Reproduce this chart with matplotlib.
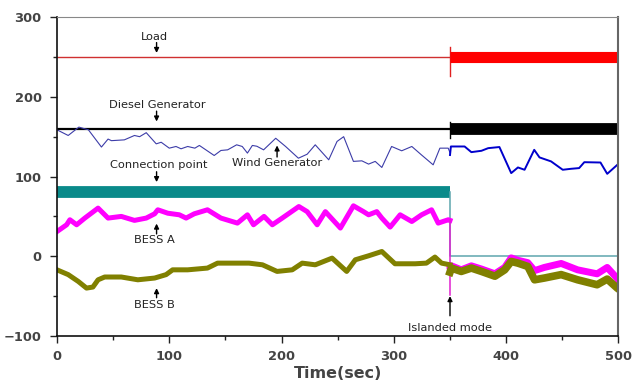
import matplotlib.pyplot as plt
import numpy as np

# time instants of the switch to islanded mode
t_island = 350
t_end = 500

# flat levels before islanding
load_level = 250
diesel_level = 160
conn_level = 80

# wind generator, grid-connected part
wind_t = [0, 10, 19.5, 28, 39.6, 45.5, 48.5, 60, 69, 73.6, 79.5, 88.4, 92.8, 100, 106,
          110.5, 116.4, 122.8, 126.8, 140, 146, 152, 160, 165, 169.6, 174, 178, 184,
          194.8, 203.6, 215, 222.8, 230, 242, 249.4, 255.3, 264, 271.5, 277.5, 283.4,
          289.3, 298, 307, 316, 324.7, 335, 341, 348.4, 350]
wind_y = [158.6, 151.5, 162, 158.6, 137, 147, 145, 146, 151.5, 150, 155, 141, 143, 135.6,
          137.7, 134.8, 137.7, 135.6, 139, 126.4, 132.7, 133.5, 139.8, 137.7, 129.4, 139,
          138, 133.5, 148, 137.7, 123, 128, 139.8, 121, 144, 150, 119, 119.7, 115.6, 119,
          111.4, 137.7, 132.3, 137.7, 127, 114.7, 135.6, 135.6, 130]

# wind generator, islanded part
wind2_t = [350, 350.8, 363, 369, 378, 384, 394, 404.5, 410.5, 416.4, 425, 429.7, 440,
           450.4, 457.7, 465, 469.6, 484, 490, 499, 500]
wind2_y = [127, 137.7, 137.7, 130.6, 132.3, 135.6, 137, 104.3, 111.4, 108.5, 133.5, 124,
           119, 108.5, 109.7, 110.6, 118, 117.6, 103.4, 114.7, 116]

# BESS A
bessa_t = [0, 8.6, 11.5, 17.5, 24.8, 36.6, 45.5, 57.3, 69, 79.5, 87, 89.8, 98.7, 109, 115,
           122.3, 134, 146, 160.7, 169.6, 175, 184.4, 191.8, 200.6, 215.4, 222.8, 231.7,
           239, 252.4, 264, 273, 277.5, 284.8, 289.3, 296.7, 305.6, 316, 324.7, 333.6,
           339.5, 348.4, 350]
bessa_y = [31, 39.5, 45.8, 39.5, 47.9, 60.4, 47.9, 50, 45, 47.9, 53.3, 58.3, 54, 52, 47.9,
           53.3, 58.3, 47.9, 41.6, 52, 39.5, 50, 39.5, 47.9, 62.4, 56, 39.5, 56, 35.4, 63.3,
           56, 52, 56, 47.9, 36.6, 52, 43.6, 52, 58.3, 41.6, 45.8, 45]
bessa_drop = -48
bessa2_t = [350, 351.3, 360, 369, 378, 390, 398.7, 404.5, 410.5, 419.3, 425.3, 434,
            449, 463.6, 481, 490, 499, 500]
bessa2_y = [-12, -12, -17, -12, -16, -22, -14, -2, -5, -8, -18, -14, -9, -17, -22,
            -14, -28, -30]

# BESS B
bessb_t = [0, 10, 19, 26.3, 32, 36.6, 42.5, 57.3, 72, 87, 97.2, 103, 116.4, 134, 143,
           157.8, 171, 183, 196, 209.5, 218.4, 230, 245, 258, 265.7, 277.5, 289.3, 301,
           319, 329, 336.6, 342.5, 350]
bessb_y = [-17, -23, -31.6, -39.9, -38.6, -29.5, -26, -26, -29.5, -27.3, -23, -17, -17,
           -14.8, -8.6, -8.6, -8.6, -10.7, -19, -17, -8.6, -10.7, -2.3, -19, -4.4, 0.6, 6,
           -9.4, -9.4, -8.6, -1, -8.6, -10.7]
bessb2_t = [350, 351.3, 360, 369, 378, 390, 398.7, 404.5, 410.5, 419.3, 425.3, 434, 449,
            463.6, 481, 490, 499, 500]
bessb2_y = [-20, -14.8, -19, -14.8, -19, -25, -17, -6.5, -8.6, -12.8, -29.5, -27.3, -23,
            -29.5, -35.7, -28.6, -40, -41]

# annotations: text, text position, arrow tail, arrow head
notes = [
    ("Load", (87, 275), (88.7, 268), (88.7, 255)),
    ("Diesel Generator", (89, 190), (88.7, 182), (88.7, 169)),
    ("Connection point", (91, 114.7), (88.7, 106), (88.7, 93)),
    ("Wind Generator", (196, 117), (196, 124.5), (196, 139)),
    ("BESS A", (87, 20.7), (88.7, 28), (88.7, 41)),
    ("BESS B", (87, -60.8), (88.7, -52), (88.7, -40)),
    ("Islanded mode", (350, -89.7), (350, -74.6), (350, -50)),
]

fig = plt.figure(figsize=(6.33, 3.88), dpi=100)
ax = fig.add_axes([0.090, 0.134, 0.887, 0.822])

# load
ax.plot([0, t_island], [load_level, load_level], color='#d03030', lw=1)
ax.plot([t_island, t_island], [226, 262], color='#e02020', lw=1)
ax.plot([t_island, t_end], [load_level, load_level], color='#ff0000', lw=8,
        solid_capstyle='butt')

# diesel
ax.plot([0, t_island], [diesel_level, diesel_level], color='black', lw=1.6)
ax.plot([t_island, t_island], [148, 168], color='black', lw=1)
ax.plot([t_island, t_end], [diesel_level - 1, diesel_level - 1], color='black', lw=8.5,
        solid_capstyle='butt')

# wind
ax.plot(wind_t, wind_y, color='#3c3ca8', lw=0.8)
ax.plot(wind2_t, wind2_y, color='#0000cc', lw=1.4)

# connection point
ax.plot([0, t_island], [conn_level, conn_level], color='#0a8a8a', lw=8.5,
        solid_capstyle='butt')
ax.plot([t_island, t_island, t_end], [conn_level, 0, 0], color='#5ea6ae', lw=1.1)

# BESS A and B
ax.plot(bessa_t, bessa_y, color='#ff00ff', lw=3.6, solid_joinstyle='round')
ax.plot([t_island, t_island], [bessa_y[-1], bessa_drop], color='#e020d0', lw=1.1)
ax.plot(bessa2_t, bessa2_y, color='#ff00ff', lw=5, solid_joinstyle='round')
ax.plot(bessb_t, bessb_y, color='#808000', lw=3.6, solid_joinstyle='round')
ax.plot(bessb2_t, bessb2_y, color='#808000', lw=5.5, solid_joinstyle='round')

for label, txt_pos, tail, head in notes:
    ax.text(txt_pos[0], txt_pos[1], label, fontsize=8.2, ha='center', va='center',
            color='#222222')
    ax.annotate('', xy=head, xytext=tail,
                arrowprops=dict(arrowstyle='-|>', color='black', lw=1,
                                mutation_scale=7, shrinkA=0, shrinkB=0))

ax.set_xlim(0, 500)
ax.set_ylim(-100, 300)
ax.set_xticks([0, 100, 200, 300, 400, 500])
ax.set_yticks([-100, 0, 100, 200, 300])
ax.set_xticks(np.arange(50, 500, 100), minor=True)
ax.set_yticks(np.arange(-50, 300, 100), minor=True)
ax.tick_params(which='major', direction='out', length=5, width=1, color='#222222',
               labelsize=9.4, labelcolor='#444444')
ax.tick_params(which='minor', direction='out', length=3, width=1, color='#222222')
for lab in ax.get_xticklabels() + ax.get_yticklabels():
    lab.set_fontweight('bold')
ax.tick_params(axis='x', pad=5)
ax.tick_params(axis='y', pad=6)

ax.spines['left'].set_color('#111111')
ax.spines['bottom'].set_color('#111111')
ax.spines['left'].set_linewidth(1.2)
ax.spines['bottom'].set_linewidth(1.2)
ax.spines['top'].set_color('#888888')
ax.spines['right'].set_color('#666666')
ax.spines['right'].set_linewidth(1.5)

ax.set_xlabel('Time(sec)', fontsize=11.5, fontweight='bold', color='#444444', labelpad=2)

plt.savefig('out.png', dpi=100)
